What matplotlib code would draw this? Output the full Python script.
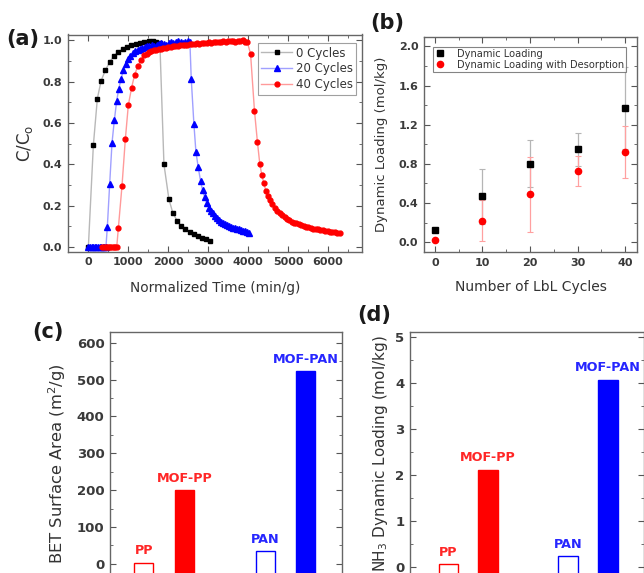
import matplotlib.pyplot as plt
import matplotlib.ticker as mticker

plt.rcParams['font.family'] = ['DejaVu Sans']
plt.rcParams['mathtext.default'] = 'regular'

# (a) breakthrough / desorption curves, normalized time (min/g) vs C/Co
t_0cyc = [0, 125, 225, 317, 425, 535, 642, 750, 858, 967, 1075, 1183, 1292, 1400,
          1508, 1617, 1700, 1790, 1892, 2017, 2117, 2225, 2325, 2425, 2533, 2633,
          2742, 2842, 2950, 3050]
c_0cyc = [0.0, 0.493, 0.718, 0.803, 0.855, 0.895, 0.925, 0.944, 0.957, 0.968, 0.976,
          0.984, 0.989, 0.992, 0.995, 0.996, 0.993, 0.985, 0.40, 0.230, 0.163, 0.126,
          0.101, 0.085, 0.074, 0.063, 0.053, 0.045, 0.037, 0.029]

t_20cyc = [0, 40, 80, 120, 160, 200, 240, 280, 320, 360, 400, 440,
           475, 533, 592, 650, 708, 758, 817, 875, 933, 992, 1050, 1110, 1170, 1230,
           1290, 1350, 1410, 1470, 1530, 1590, 1650, 1710, 1770, 1830, 1890, 1950,
           2010, 2070, 2130, 2190, 2250, 2310, 2370, 2430, 2490, 2542,
           2575, 2642, 2692, 2750, 2808, 2858, 2908, 2958, 3017, 3070, 3120, 3170,
           3220, 3270, 3320, 3370, 3420, 3470, 3520, 3570, 3620, 3670, 3720, 3770,
           3820, 3870, 3920, 3970, 4020]
c_20cyc = [0.0, 0.0, 0.0, 0.0, 0.0, 0.0, 0.0, 0.0, 0.0, 0.0, 0.0, 0.0,
           0.098, 0.304, 0.504, 0.613, 0.705, 0.763, 0.812, 0.855, 0.887, 0.911, 0.926,
           0.938, 0.946, 0.953, 0.958, 0.963, 0.967, 0.970, 0.972, 0.975, 0.970, 0.975,
           0.980, 0.985, 0.983, 0.978, 0.985, 0.990, 0.988, 0.993, 0.995, 0.990, 0.985,
           0.990, 0.995, 0.990,
           0.815, 0.594, 0.461, 0.385, 0.320, 0.275, 0.243, 0.214, 0.190, 0.175, 0.162,
           0.151, 0.140, 0.131, 0.122, 0.115, 0.109, 0.104, 0.100, 0.096, 0.093, 0.090,
           0.088, 0.085, 0.082, 0.079, 0.076, 0.072, 0.068]

t_40cyc = [350, 390, 430, 470, 510, 550, 590, 630, 670, 710,
           750, 842, 925, 1000, 1083, 1158, 1242, 1317, 1400, 1460, 1520, 1580, 1640,
           1700, 1760, 1820, 1880, 1940, 2000, 2060, 2120, 2180, 2240, 2300, 2360,
           2420, 2480, 2540, 2600, 2660, 2720, 2780, 2840, 2900, 2960, 3020, 3080,
           3140, 3200, 3260, 3320, 3380, 3440, 3500, 3560, 3620, 3680, 3740, 3800,
           3860, 3920, 3980,
           4060, 4158, 4233, 4292, 4342, 4392, 4442, 4492, 4542, 4608, 4667, 4733,
           4792, 4850, 4910, 4970, 5030, 5090, 5150, 5210, 5270, 5330, 5390, 5450,
           5510, 5570, 5630, 5690, 5750, 5810, 5870, 5930, 5990, 6050, 6110, 6170,
           6230, 6290]
c_40cyc = [0.0, 0.0, 0.0, 0.0, 0.0, 0.0, 0.0, 0.0, 0.0, 0.0,
           0.090, 0.296, 0.520, 0.686, 0.771, 0.834, 0.876, 0.907, 0.928, 0.935, 0.942,
           0.947, 0.951, 0.955, 0.958, 0.960, 0.962, 0.965, 0.967, 0.968, 0.970, 0.972,
           0.973, 0.975, 0.976, 0.977, 0.979, 0.980, 0.982, 0.983, 0.985, 0.984, 0.986,
           0.987, 0.988, 0.990, 0.988, 0.990, 0.992, 0.990, 0.993, 0.995, 0.992, 0.996,
           0.995, 0.998, 0.994, 0.997, 0.995, 0.999, 0.993, 0.990,
           0.935, 0.659, 0.506, 0.401, 0.348, 0.308, 0.272, 0.246, 0.227, 0.206, 0.190,
           0.174, 0.163, 0.153, 0.144, 0.136, 0.129, 0.123, 0.118, 0.117, 0.113, 0.105,
           0.101, 0.098, 0.095, 0.092, 0.089, 0.087, 0.085, 0.082, 0.080, 0.078, 0.076,
           0.074, 0.072, 0.070, 0.069, 0.067]

# (b) dynamic loading vs number of LbL cycles
lbl_cycles = [0, 10, 20, 30, 40]
dyn_load = [0.12, 0.47, 0.80, 0.95, 1.37]
dyn_load_err = [0.02, 0.28, 0.24, 0.17, 0.42]
dyn_load_des = [0.027, 0.22, 0.49, 0.73, 0.92]
dyn_load_des_err = [0.01, 0.21, 0.385, 0.155, 0.265]

# (c), (d) fibre comparison
fibres = ['PP', 'MOF-PP', 'PAN', 'MOF-PAN']
fibre_pos = [1, 2, 4, 5]
fibre_colors = ['red', 'red', 'blue', 'blue']
fibre_filled = [False, True, False, True]
bet_area = [3, 200, 34, 523]
nh3_loading = [0.05, 2.11, 0.23, 4.07]

TXT = '#333333'
W, H = 644, 573
fig = plt.figure(figsize=(W / 100, H / 100), dpi=100)


def add_px_axes(left, top, right, bottom):
    return fig.add_axes([left / W, 1 - bottom / H, (right - left) / W, (bottom - top) / H])


def style(ax, fs=8, xticks=True):
    ax.tick_params(which='both', direction='in', top=xticks, bottom=xticks,
                   right=True, left=True, labelsize=fs, colors='#555555',
                   labelcolor='#3a3a3a')
    ax.tick_params(which='major', length=4, width=0.8, pad=4)
    ax.tick_params(which='minor', length=2.2, width=0.6)
    for s in ax.spines.values():
        s.set_color('#666666')
        s.set_linewidth(1.0)


# ---- (a)
ax = add_px_axes(68, 34.5, 362, 251.7)
ax.plot(t_0cyc, c_0cyc, color='#b8b8b8', lw=1.0, marker='s', ms=3.2,
        mfc='black', mec='black', label='0 Cycles')
ax.plot(t_20cyc, c_20cyc, color='#a0a0ff', lw=1.0, marker='^', ms=3.8,
        mfc='blue', mec='blue', label='20 Cycles')
ax.plot(t_40cyc, c_40cyc, color='#ff9a9a', lw=1.0, marker='o', ms=3.5,
        mfc='red', mec='red', label='40 Cycles')
ax.set_xlim(-510, 6850)
ax.set_ylim(-0.023, 1.028)
ax.xaxis.set_major_locator(mticker.MultipleLocator(1000))
ax.xaxis.set_minor_locator(mticker.MultipleLocator(500))
ax.yaxis.set_major_locator(mticker.MultipleLocator(0.2))
ax.yaxis.set_minor_locator(mticker.MultipleLocator(0.1))
ax.yaxis.set_major_formatter(mticker.FormatStrFormatter('%.1f'))
style(ax)
ax.set_xlabel('Normalized Time (min/g)', fontsize=9.8, color=TXT)
ax.set_ylabel(r'C/C$_{o}$', fontsize=12, color=TXT)
ax.xaxis.label.set_va('center')
ax.yaxis.label.set_va('center')
ax.xaxis.set_label_coords(0.5, -0.167)
ax.yaxis.set_label_coords(-0.146, 0.5)
leg = ax.legend(loc='upper left', bbox_to_anchor=(0.646, 0.961), borderaxespad=0,
                fontsize=8.5, frameon=True, fancybox=False, handlelength=2.6,
                handletextpad=0.3, labelspacing=0.25, borderpad=0.3)
leg.get_frame().set_edgecolor('#888888')
leg.get_frame().set_linewidth(0.8)
for t in leg.get_texts():
    t.set_color(TXT)

# ---- (b)
bx = add_px_axes(424, 36.7, 637, 252)
bx.errorbar(lbl_cycles, dyn_load, yerr=dyn_load_err, fmt='s', color='black', ms=4.5,
            ecolor='#b5b5b5', elinewidth=0.9, capsize=2, capthick=0.8,
            label='Dynamic Loading')
bx.errorbar(lbl_cycles, dyn_load_des, yerr=dyn_load_des_err, fmt='o', color='red', ms=4.5,
            ecolor='#ffa0a0', elinewidth=0.9, capsize=2, capthick=0.8,
            label='Dynamic Loading with Desorption')
bx.set_xlim(-2.3, 42.5)
bx.set_ylim(-0.1, 2.1)
bx.xaxis.set_major_locator(mticker.MultipleLocator(10))
bx.xaxis.set_minor_locator(mticker.MultipleLocator(5))
bx.yaxis.set_major_locator(mticker.MultipleLocator(0.4))
bx.yaxis.set_minor_locator(mticker.MultipleLocator(0.2))
bx.yaxis.set_major_formatter(mticker.FormatStrFormatter('%.1f'))
style(bx)
bx.set_xlabel('Number of LbL Cycles', fontsize=10, color=TXT)
bx.set_ylabel('Dynamic Loading (mol/kg)', fontsize=9.5, color=TXT)
bx.xaxis.label.set_va('center')
bx.yaxis.label.set_va('center')
bx.xaxis.set_label_coords(0.5, -0.161)
bx.yaxis.set_label_coords(-0.199, 0.5)
handles, labels = bx.get_legend_handles_labels()
handles = [h[0] for h in handles]
leg = bx.legend(handles, labels, loc='upper left', bbox_to_anchor=(0.042, 0.953),
                borderaxespad=0, fontsize=7.1, frameon=True, fancybox=False,
                handlelength=1.0, handletextpad=1.2, labelspacing=0.1, borderpad=0.2)
leg.get_frame().set_edgecolor('#666666')
leg.get_frame().set_linewidth(0.8)
for t in leg.get_texts():
    t.set_color(TXT)


# ---- (c) and (d)
def fibre_bars(ax, values, ylim, width):
    base = ylim[0]
    for pos, val, col, filled, name in zip(fibre_pos, values, fibre_colors,
                                           fibre_filled, fibres):
        ax.bar(pos, val - base, bottom=base, width=width,
               color=col if filled else 'none', edgecolor=col, linewidth=1.0)
        ax.annotate(name, (pos, val), xytext=(0, 8.6), textcoords='offset points',
                    ha='center', va='center', color=col, fontsize=9.2,
                    fontweight='bold', alpha=0.85)
    ax.set_ylim(*ylim)
    style(ax, fs=9.5, xticks=False)
    ax.tick_params(labelbottom=False)


cx = add_px_axes(110, 331.7, 342, 600)
fibre_bars(cx, bet_area, (-98, 630), 0.47)
cx.set_xlim(0.165, 5.894)
cx.yaxis.set_major_locator(mticker.MultipleLocator(100))
cx.yaxis.set_minor_locator(mticker.MultipleLocator(50))
cx.set_ylabel(r'BET Surface Area (m$^{2}$/g)', fontsize=11.8, color=TXT)
cx.yaxis.label.set_va('center')
cx.yaxis.set_label_coords(-0.228, 0.507)

dx = add_px_axes(410, 331.7, 643.5, 600)
fibre_bars(dx, nh3_loading, (-0.73, 5.12), 0.49)
dx.set_xlim(0.04, 5.895)
dx.yaxis.set_major_locator(mticker.MultipleLocator(1))
dx.yaxis.set_minor_locator(mticker.MultipleLocator(0.5))
dx.set_ylabel(r'NH$_{3}$ Dynamic Loading (mol/kg)', fontsize=11, color=TXT)
dx.yaxis.label.set_va('center')
dx.yaxis.set_label_coords(-0.128, 0.545)

# panel letters
for letter, x, y in [('(a)', 22.5, 39), ('(b)', 387.7, 23.5),
                     ('(c)', 48, 331.7), ('(d)', 374, 315)]:
    fig.text(x / W, 1 - y / H, letter, ha='center', va='center', fontsize=15,
             fontweight='bold', color='#1a1a1a')

# bold tick labels once the ticks exist
fig.canvas.draw()
for a in (ax, bx, cx, dx):
    for tick in a.xaxis.get_major_ticks() + a.yaxis.get_major_ticks():
        tick.label1.set_fontweight('bold')

fig.savefig('out.png', dpi=100)
